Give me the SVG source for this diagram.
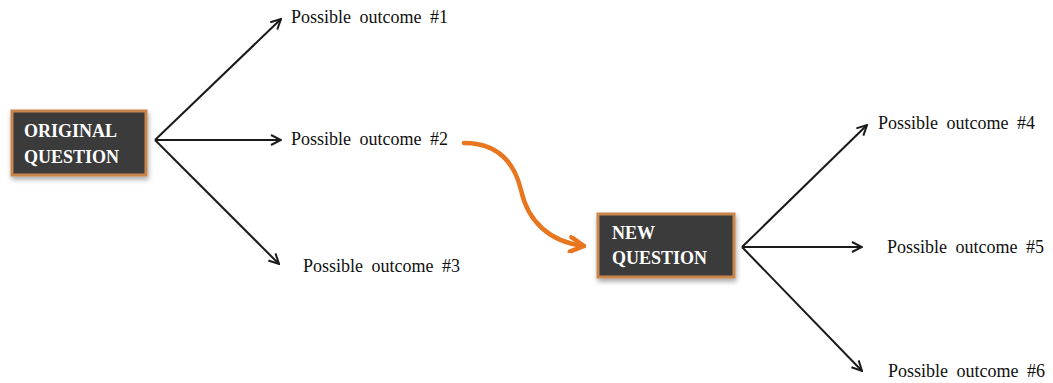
<svg xmlns="http://www.w3.org/2000/svg" width="1053" height="383" viewBox="0 0 1053 383">
<style>
.box{fill:#3a3a3a;stroke:#c8864e;stroke-width:3;filter:url(#sh)}
.bt{font-family:"Liberation Serif",serif;font-weight:bold;font-size:18px;fill:#ffffff}
.lbl{font-family:"Liberation Serif",serif;font-size:18px;fill:#111;word-spacing:4px}
.con{stroke:#1a1a1a;stroke-width:2;fill:none;marker-end:url(#ah)}
.cur{stroke:#e8761f;stroke-width:4.5;fill:none;stroke-linecap:round;marker-end:url(#oh)}
</style>
<defs>
<filter id="sh" x="-20%" y="-20%" width="140%" height="150%">
<feDropShadow dx="1" dy="3" stdDeviation="2.5" flood-color="#000" flood-opacity="0.35"/>
</filter>
<marker id="ah" viewBox="0 0 12 12" refX="11" refY="6" markerWidth="12" markerHeight="12" markerUnits="userSpaceOnUse" orient="auto">
<path d="M1,1 L11,6 L1,11" fill="none" stroke="#1a1a1a" stroke-width="2"/>
</marker>
<marker id="oh" viewBox="0 0 16 16" refX="14" refY="8" markerWidth="18" markerHeight="18" markerUnits="userSpaceOnUse" orient="auto">
<path d="M2,1.5 L14,8 L2,14.5" fill="none" stroke="#e8761f" stroke-width="4" stroke-linecap="round" stroke-linejoin="round"/>
</marker>
</defs>
<rect width="1053" height="383" fill="#ffffff"/>
<g id="connectors">
<line class="con" x1="155" y1="140" x2="281" y2="19"/>
<line class="con" x1="155" y1="140" x2="281" y2="140"/>
<line class="con" x1="155" y1="140" x2="279" y2="264"/>
<line class="con" x1="742" y1="247" x2="867" y2="125"/>
<line class="con" x1="742" y1="247" x2="862" y2="247"/>
<line class="con" x1="742" y1="247" x2="862" y2="371"/>
<path class="cur" d="M464,143 C500,143 515,165 521,190 C528,222 550,242 584,246"/>
</g>
<g id="original-question">
<rect class="box" x="12" y="111" width="134" height="64"/>
<text class="bt" x="24" y="137">ORIGINAL</text>
<text class="bt" x="24" y="163">QUESTION</text>
</g>
<g id="new-question">
<rect class="box" x="598" y="214" width="136" height="63"/>
<text class="bt" x="612" y="239">NEW</text>
<text class="bt" x="612" y="264">QUESTION</text>
</g>
<g id="outcome-1"><text class="lbl" x="291" y="23">Possible outcome #1</text></g>
<g id="outcome-2"><text class="lbl" x="291" y="145">Possible outcome #2</text></g>
<g id="outcome-3"><text class="lbl" x="303" y="272">Possible outcome #3</text></g>
<g id="outcome-4"><text class="lbl" x="878" y="129">Possible outcome #4</text></g>
<g id="outcome-5"><text class="lbl" x="887" y="253">Possible outcome #5</text></g>
<g id="outcome-6"><text class="lbl" x="888" y="377">Possible outcome #6</text></g>
</svg>
